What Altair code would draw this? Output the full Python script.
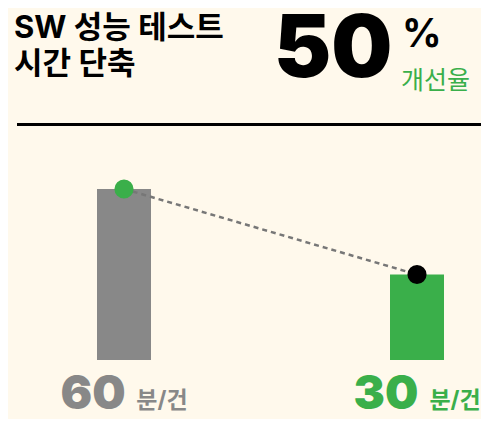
import altair as alt
import pandas as pd

# ---- data ----
categories = ["before", "after"]
values = [60, 30]
value_labels = ["60", "30"]
unit_labels = ["분/건", "분/건"]
title_lines = ["SW 성능 테스트", "시간 단축"]
headline = ["50"]
headline_unit = ["%"]
headline_caption = ["개선율"]

GRAY = "#888888"
GREEN = "#3AAF4A"
BG = "#FFF9EC"
KFONT = 'Inter, "Noto Sans CJK KR"'

df = pd.DataFrame({"cat": categories, "value": values,
                   "label": value_labels, "unit": unit_labels})

x = alt.X("cat:N", sort=categories, axis=None,
          scale=alt.Scale(type="band", range=[89, 436], paddingInner=0.8157, paddingOuter=0))
y = alt.Y("value:Q", axis=None, scale=alt.Scale(domain=[0, 60], range=[352, 181]))

bar_color = alt.Color("cat:N", legend=None,
                      scale=alt.Scale(domain=categories, range=[GRAY, GREEN]))
pt_color = alt.Color("cat:N", legend=None,
                     scale=alt.Scale(domain=categories, range=[GREEN, "#000000"]))
lab_color = alt.Color("cat:N", legend=None,
                      scale=alt.Scale(domain=categories, range=[GRAY, GREEN]))

base = alt.Chart(df)

bars = base.mark_bar().encode(x=x, y=y, color=bar_color)
line = base.mark_line(strokeDash=[5, 4], color="#777777", strokeWidth=2.5).encode(x=x, y=y)
points = base.mark_circle(size=366, opacity=1).encode(x=x, y=y, color=pt_color)

num_text = base.mark_text(font=KFONT, fontWeight=900, fontSize=47, dx=-31,
                          align="center", baseline="alphabetic").encode(
    x=x, y=alt.value(401), text="label:N", color=lab_color)
unit_text = base.mark_text(font=KFONT, fontWeight="bold", fontSize=23, dx=38,
                           align="center", baseline="alphabetic").encode(
    x=x, y=alt.value(400), text="unit:N", color=lab_color)

title = alt.Chart(pd.DataFrame({"t": [title_lines]})).mark_text(
    font=KFONT, fontWeight="bold", fontSize=31, align="left", baseline="alphabetic",
    lineHeight=36, color="#000000").encode(
    x=alt.value(6), y=alt.value(30), text="t")

big = alt.Chart(pd.DataFrame({"t": headline})).mark_text(
    font=KFONT, fontWeight=900, fontSize=86, align="left", baseline="alphabetic",
    color="#000000").encode(x=alt.value(266), y=alt.value(69), text="t:N")

pct = alt.Chart(pd.DataFrame({"t": headline_unit})).mark_text(
    font=KFONT, fontWeight="bold", fontSize=39, align="left", baseline="alphabetic",
    color="#000000").encode(x=alt.value(394), y=alt.value(39), text="t:N")

cap = alt.Chart(pd.DataFrame({"t": headline_caption})).mark_text(
    font=KFONT, fontWeight="normal", fontSize=25, align="left", baseline="alphabetic",
    color=GREEN).encode(x=alt.value(393), y=alt.value(81), text="t:N")

rule = alt.Chart(pd.DataFrame({"a": [0]})).mark_rule(color="#000000", strokeWidth=3).encode(
    x=alt.value(9), x2=alt.value(473), y=alt.value(116.5))

chart = alt.layer(bars, line, points, num_text, unit_text, title, big, pct, cap, rule).properties(
    width=473, height=411, background=BG, padding=0,
    autosize=alt.AutoSizeParams(type="none")
).configure_view(stroke=None).resolve_scale(color="independent")

chart.save("out.html", embed_options={"renderer": "svg", "actions": False})
